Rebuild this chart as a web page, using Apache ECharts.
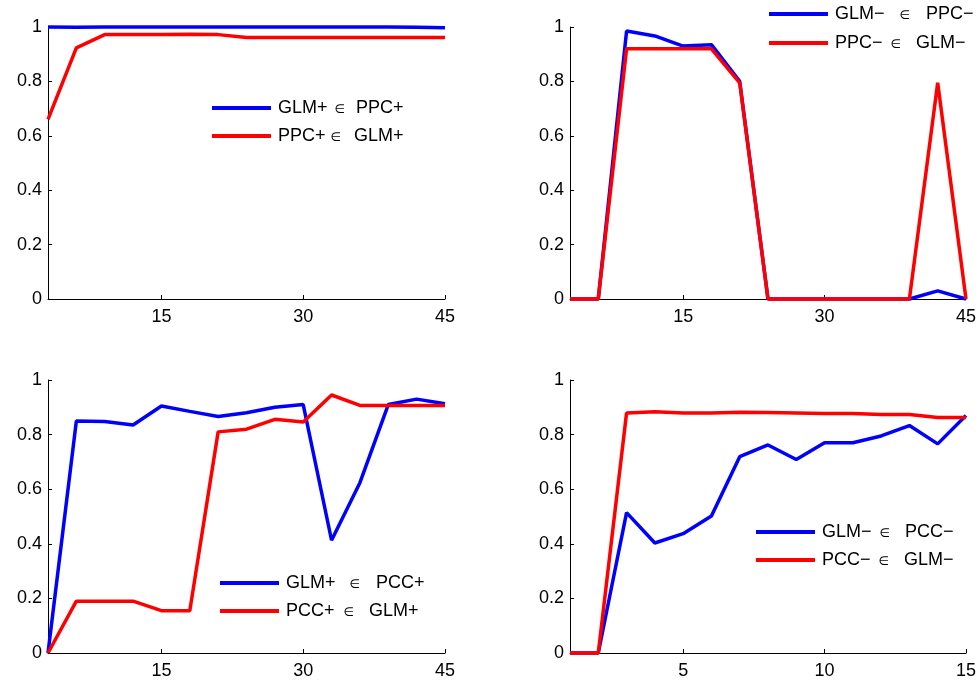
<!DOCTYPE html>
<html>
<head>
<meta charset="utf-8">
<script src="https://cdn.jsdelivr.net/npm/echarts@6/dist/echarts.min.js"></script>
<style>html,body{margin:0;padding:0;background:#fff;}#c{width:979px;height:681px;}</style>
</head>
<body>
<div id="c"></div>
<script>
// x positions
const x45 = [3, 6, 9, 12, 15, 18, 21, 24, 27, 30, 33, 36, 39, 42, 45];
const x15 = [1, 2, 3, 4, 5, 6, 7, 8, 9, 10, 11, 12, 13, 14, 15];
const xTicks45 = [15, 30, 45];
const xTicks15 = [5, 10, 15];

// Panel 1 (top-left)
const p1GlmInPpc = [1.0, 0.999, 1.0, 1.0, 1.0, 1.0, 1.0, 1.0, 1.0, 1.0, 1.0, 1.0, 1.0, 0.999, 0.997];
const p1PpcInGlm = [0.66, 0.923, 0.972, 0.972, 0.972, 0.973, 0.972, 0.961, 0.961, 0.961, 0.961, 0.961, 0.961, 0.961, 0.961];
// Panel 2 (top-right)
const p2GlmInPpc = [0, 0, 0.985, 0.967, 0.93, 0.935, 0.80, 0, 0, 0, 0, 0, 0, 0.03, 0];
const p2PpcInGlm = [0, 0, 0.92, 0.92, 0.92, 0.92, 0.795, 0, 0, 0, 0, 0, 0, 0.795, 0];
// Panel 3 (bottom-left)
const p3GlmInPcc = [0, 0.85, 0.848, 0.835, 0.905, 0.885, 0.866, 0.88, 0.90, 0.91, 0.413, 0.624, 0.91, 0.93, 0.913];
const p3PccInGlm = [0, 0.19, 0.19, 0.19, 0.155, 0.155, 0.81, 0.82, 0.856, 0.846, 0.945, 0.907, 0.907, 0.907, 0.907];
// Panel 4 (bottom-right)
const p4GlmInPcc = [0, 0, 0.514, 0.403, 0.437, 0.502, 0.719, 0.762, 0.709, 0.77, 0.77, 0.795, 0.833, 0.766, 0.87];
const p4PccInGlm = [0, 0, 0.879, 0.884, 0.879, 0.879, 0.882, 0.881, 0.879, 0.877, 0.877, 0.874, 0.874, 0.863, 0.863];

// legend labels: [left, right, gapBefore, gapAfter]
const names = {
  'GLM+∈PPC+': ['GLM+', 'PPC+', 7, 9],
  'PPC+∈GLM+': ['PPC+', 'GLM+', 5, 11],
  'GLM−∈PPC−': ['GLM−', 'PPC−', 15, 14],
  'PPC−∈GLM−': ['PPC−', 'GLM−', 8, 13],
  'GLM+∈PCC+': ['GLM+', 'PCC+', 14, 14],
  'PCC+∈GLM+': ['PCC+', 'GLM+', 9, 13],
  'GLM−∈PCC−': ['GLM−', 'PCC−', 8, 13],
  'PCC−∈GLM−': ['PCC−', 'GLM−', 8, 13]
};

const FONT = "'Liberation Sans', Arial, Helvetica, sans-serif";
const BLUE = '#0000ff', RED = '#ff0000';

const rich = { a: { fontSize: 18, fontFamily: FONT, color: '#000', padding: [0, 0, 0, 2] },
               s: { fontSize: 12, fontFamily: 'DejaVu Sans', color: '#000', padding: [3, 0, 0, 0] } };
for (let i = 1; i <= 24; i++) rich['g' + i] = { width: i, fontSize: 18 };

function legendFmt(n) {
  const p = names[n];
  return '{a|' + p[0] + '}{g' + p[2] + '| }{s|∈}{g' + p[3] + '| }{a|' + p[1] + '}';
}

const grids = [
  { left: 48, top: 27, width: 397, height: 272 },
  { left: 570, top: 27, width: 396, height: 272 },
  { left: 48, top: 380, width: 397, height: 273 },
  { left: 570, top: 380, width: 396, height: 273 }
];

function xAxis(i, min, max, ticks) {
  return {
    type: 'value', gridIndex: i, min: min, max: max,
    axisLine: { show: true, lineStyle: { color: '#000', width: 1 } },
    axisTick: { show: true, inside: true, length: 4, customValues: ticks, lineStyle: { color: '#000' } },
    axisLabel: { customValues: ticks, color: '#000', fontSize: 18, fontFamily: FONT, margin: 9 },
    splitLine: { show: false }
  };
}
function yAxis(i) {
  return {
    type: 'value', gridIndex: i, min: 0, max: 1, interval: 0.2,
    axisLine: { show: true, lineStyle: { color: '#000', width: 1 } },
    axisTick: { show: true, inside: true, length: 4, lineStyle: { color: '#000' } },
    axisLabel: { color: '#000', fontSize: 18, fontFamily: FONT, margin: 6 },
    splitLine: { show: false }
  };
}
function zip(xs, ys) { return xs.map((x, k) => [x, ys[k]]); }
function line(name, i, xs, ys, color) {
  return {
    type: 'line', name: name, xAxisIndex: i, yAxisIndex: i,
    data: zip(xs, ys), showSymbol: false, symbol: 'none', clip: false,
    lineStyle: { color: color, width: 3.5 }, itemStyle: { color: color },
    animation: false
  };
}
function legend(left, top, gap, data) {
  return {
    orient: 'vertical', left: left, top: top, itemGap: gap, padding: 0,
    itemWidth: 59, itemHeight: 4, icon: 'rect', data: data,
    formatter: legendFmt,
    textStyle: { rich: rich, lineHeight: 20, fontSize: 18 },
    selectedMode: false
  };
}

const option = {
  backgroundColor: '#fff',
  animation: false,
  grid: grids,
  xAxis: [xAxis(0, 3, 45, xTicks45), xAxis(1, 3, 45, xTicks45), xAxis(2, 3, 45, xTicks45), xAxis(3, 1, 15, xTicks15)],
  yAxis: [yAxis(0), yAxis(1), yAxis(2), yAxis(3)],
  legend: [
    legend(212, 98, 8, ['GLM+∈PPC+', 'PPC+∈GLM+']),
    legend(769, 4, 9, ['GLM−∈PPC−', 'PPC−∈GLM−']),
    legend(220, 573, 8, ['GLM+∈PCC+', 'PCC+∈GLM+']),
    legend(756, 522, 8, ['GLM−∈PCC−', 'PCC−∈GLM−'])
  ],
  series: [
    line('GLM+∈PPC+', 0, x45, p1GlmInPpc, BLUE),
    line('PPC+∈GLM+', 0, x45, p1PpcInGlm, RED),
    line('GLM−∈PPC−', 1, x45, p2GlmInPpc, BLUE),
    line('PPC−∈GLM−', 1, x45, p2PpcInGlm, RED),
    line('GLM+∈PCC+', 2, x45, p3GlmInPcc, BLUE),
    line('PCC+∈GLM+', 2, x45, p3PccInGlm, RED),
    line('GLM−∈PCC−', 3, x15, p4GlmInPcc, BLUE),
    line('PCC−∈GLM−', 3, x15, p4PccInGlm, RED)
  ]
};
const chart = echarts.init(document.getElementById('c'), null, { renderer: 'canvas' });
chart.setOption(option);
</script>
</body>
</html>
